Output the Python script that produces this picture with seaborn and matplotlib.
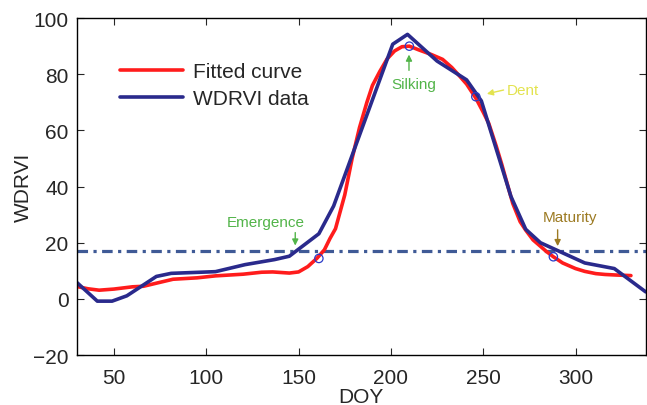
import matplotlib
matplotlib.use("Agg")
from matplotlib import pyplot as plt
import pandas as pd
import seaborn as sns

# WDRVI data (blue polyline)
data_doy = [30, 41, 49, 57, 73, 81, 105, 121, 137, 145, 161, 169, 201, 209, 225, 241, 249, 265, 273, 281, 305, 321, 338]
data_val = [5.8, -0.8, -0.8, 1.1, 8.0, 9.1, 9.7, 12.2, 14.0, 15.2, 23.2, 33.1, 90.7, 94.2, 84.7, 78.0, 70.5, 36.5, 24.8, 20.0, 12.8, 10.8, 2.5]

# fitted curve (red)
fit_doy = [30, 36, 42, 50, 60, 66, 73, 82, 95, 105, 120, 130, 136, 145, 150, 155, 160, 164, 167, 170, 175, 179,
           183, 187, 190, 194, 198, 202, 206, 210, 215, 222, 228, 233, 237, 241, 246, 250, 253, 257, 260, 263,
           266, 270, 273, 277, 280, 284, 288, 293, 300, 305, 311, 316, 322, 330]
fit_val = [4.4, 3.6, 3.1, 3.5, 4.3, 4.5, 5.6, 7.0, 7.5, 8.2, 8.8, 9.5, 9.6, 9.2, 9.6, 11.5, 14.5, 17.5, 21.5, 25.0,
           37.0, 50.0, 61.0, 70.0, 76.0, 81.0, 85.5, 88.3, 89.8, 90.0, 88.7, 87.0, 85.3, 82.4, 79.5, 76.5, 71.5,
           66.5, 62.5, 54.5, 48.0, 41.0, 34.0, 27.5, 24.5, 21.0, 19.3, 17.0, 15.0, 12.8, 10.8, 9.8, 9.0, 8.7,
           8.5, 8.3]

# phenological stages
stage_names = ["Emergence", "Silking", "Dent", "Maturity"]
stage_doy = [161, 210, 246, 288]
stage_val = [14.4, 90.0, 72.0, 15.0]
threshold = 17.0

sns.set_style("ticks")
plt.rcParams['font.family'] = ['Liberation Sans', 'DejaVu Sans']

fig = plt.figure(figsize=(6.47, 4.06), dpi=100)
ax = fig.add_axes([0.119, 0.123, 0.879, 0.830])

fit_df = pd.DataFrame({"DOY": fit_doy, "WDRVI": fit_val})
data_df = pd.DataFrame({"DOY": data_doy, "WDRVI": data_val})
sns.lineplot(data=fit_df, x="DOY", y="WDRVI", ax=ax, color="#ff1c1c", lw=2.6, label="Fitted curve", sort=False)
sns.lineplot(data=data_df, x="DOY", y="WDRVI", ax=ax, color="#2a2a8c", lw=2.6, label="WDRVI data", sort=False)

thr = ax.axhline(threshold, color="#3f5a96", lw=2.3, zorder=1)
thr.set_dashes([3.3, 1.7, 1.0, 1.7])

sns.scatterplot(x=stage_doy, y=stage_val, ax=ax, marker="o", s=36, facecolor="none",
                edgecolor="#2b3bc8", linewidth=0.9, zorder=5)

# annotations
stage_colors = ["#52b449", "#52b449", "#e3e34e", "#9c7a22"]
ax.text(132, 27.4, stage_names[0], color=stage_colors[0], fontsize=11, ha="center", va="center")
ax.annotate("", xy=(148.2, 18.0), xytext=(148.2, 24.6),
            arrowprops=dict(arrowstyle="-|>", color=stage_colors[0], lw=1, mutation_scale=9))
ax.text(212.5, 76.6, stage_names[1], color=stage_colors[1], fontsize=11, ha="center", va="center")
ax.annotate("", xy=(209.8, 88.0), xytext=(209.8, 80.4),
            arrowprops=dict(arrowstyle="-|>", color=stage_colors[1], lw=1, mutation_scale=9))
ax.text(263.0, 74.5, stage_names[2], color=stage_colors[2], fontsize=11, ha="left", va="center")
ax.annotate("", xy=(250.5, 72.8), xytext=(262.5, 74.6),
            arrowprops=dict(arrowstyle="-|>", color=stage_colors[2], lw=1, mutation_scale=9))
ax.text(297, 29.2, stage_names[3], color=stage_colors[3], fontsize=11, ha="center", va="center")
ax.annotate("", xy=(290.3, 17.8), xytext=(290.3, 25.6),
            arrowprops=dict(arrowstyle="-|>", color=stage_colors[3], lw=1, mutation_scale=9))

ax.set_xlim(30, 338)
ax.set_ylim(-20, 100)
ax.set_xticks([50, 100, 150, 200, 250, 300])
ax.set_yticks([-20, 0, 20, 40, 60, 80, 100])
ax.tick_params(direction="in", top=True, right=True, labelsize=15, length=5, width=0.8)
ax.tick_params(axis="x", pad=9)
ax.tick_params(axis="y", pad=6)
for s in ax.spines.values():
    s.set_linewidth(1.0)
    s.set_color("black")
ax.set_xlabel("DOY", fontsize=15, labelpad=0.5)
ax.set_ylabel("WDRVI", fontsize=15, labelpad=0)

leg = ax.legend(loc="upper left", bbox_to_anchor=(0.061, 0.894), frameon=False, fontsize=15,
                handlelength=3.0, handletextpad=0.5, labelspacing=0.4, borderaxespad=0)

fig.savefig("out.png", dpi=100)
